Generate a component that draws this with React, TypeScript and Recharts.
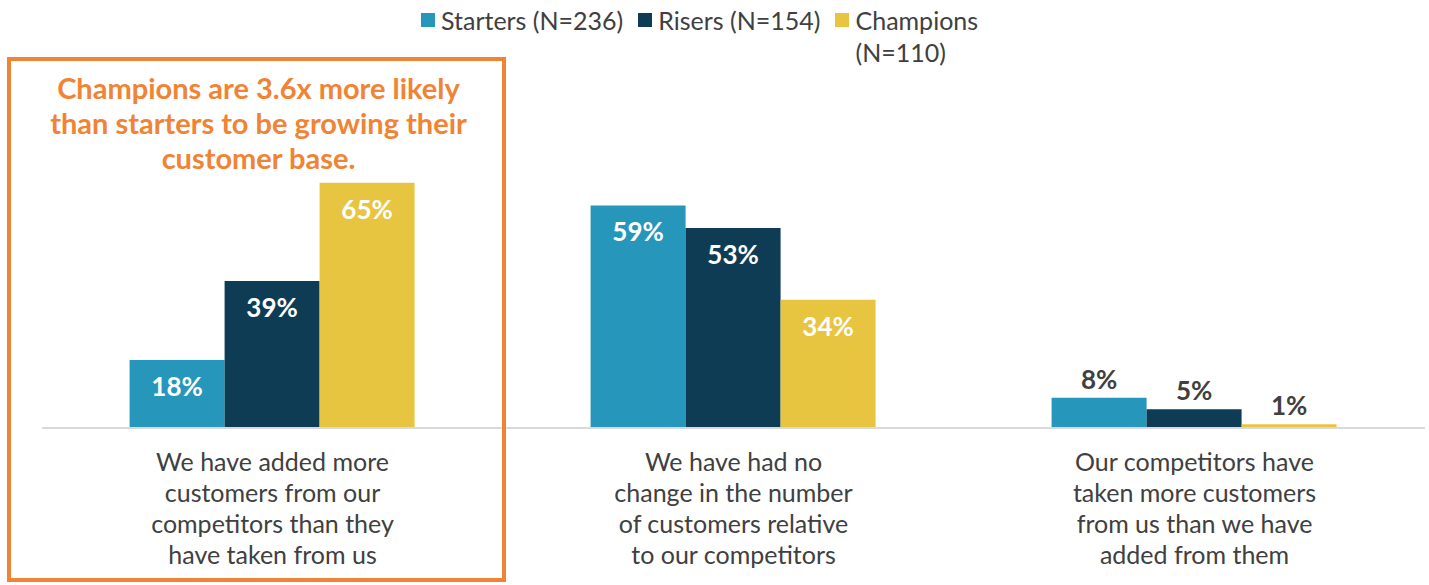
import React from "react";
import { BarChart, Bar, XAxis, YAxis, LabelList } from "recharts";

const categories = [
  "We have added more|customers from our|competitors than they|have taken from us",
  "We have had no|change in the number|of customers relative|to our competitors",
  "Our competitors have|taken more customers|from us than we have|added from them",
];
const starters = [18, 59, 8];
const risers = [39, 53, 5];
const champions = [65, 34, 1];
const seriesNames = ["Starters (N=236)", "Risers (N=154)", "Champions (N=110)"];
const colors = ["#2796BB", "#0F3C55", "#E8C541"];
const annotation = [
  "Champions are 3.6x more likely",
  "than starters to be growing their",
  "customer base.",
];

const data = categories.map((c, i) => ({
  category: c,
  starters: starters[i],
  risers: risers[i],
  champions: champions[i],
}));

const FONT = "Lato, 'Noto Sans', sans-serif";

const CategoryTick = (props: any) => {
  const { x, y, payload } = props;
  const lines = String(payload.value).split("|");
  return (
    <g transform={`translate(${x},${y})`}>
      {lines.map((l: string, i: number) => (
        <text
          key={i}
          x={0}
          y={35 + i * 31}
          textAnchor="middle"
          fill="#404040"
          fontSize={25}
          fontFamily={FONT}
        >
          {l}
        </text>
      ))}
    </g>
  );
};

const ValueLabel = (props: any) => {
  const { x, y, width, height, value } = props;
  const inside = height > 40;
  return (
    <text
      x={x + width / 2}
      y={inside ? y + 36 : y - 9}
      textAnchor="middle"
      fill={inside ? "#FFFFFF" : "#404040"}
      fontSize={26}
      fontWeight={700}
      fontFamily={FONT}
    >
      {value}%
    </text>
  );
};

export default function App() {
  const keys = ["starters", "risers", "champions"];
  return (
    <div style={{ position: "absolute", left: 0, top: 0, width: 1429, height: 585, background: "#fff", fontFamily: FONT }}>
      <BarChart
        width={1429}
        height={585}
        data={data}
        margin={{ top: 164, right: 4, bottom: 0, left: 42 }}
        barCategoryGap="19%"
        barGap={0}
      >
        <XAxis
          dataKey="category"
          height={157}
          tickLine={false}
          axisLine={{ stroke: "#D9D9D9", strokeWidth: 2 }}
          tick={<CategoryTick />}
          interval={0}
        />
        <YAxis hide domain={[0, 70]} />
        {keys.map((k, i) => (
          <Bar key={k} dataKey={k} name={seriesNames[i]} fill={colors[i]} isAnimationActive={false}>
            <LabelList dataKey={k} content={<ValueLabel />} />
          </Bar>
        ))}
      </BarChart>
      <div
        style={{
          position: "absolute",
          left: 421,
          top: 4,
          width: 572,
          display: "flex",
          alignItems: "flex-start",
          fontSize: 25,
          lineHeight: "32px",
          color: "#404040",
        }}
      >
        {seriesNames.map((n, i) => (
          <div
            key={n}
            style={{
              display: "flex",
              alignItems: "flex-start",
              marginRight: i < 2 ? 15 : 0,
              flex: i < 2 ? "none" : "1 1 auto",
              minWidth: 0,
            }}
          >
            <span
              style={{
                display: "inline-block",
                width: 14,
                height: 14,
                background: colors[i],
                marginTop: 9,
                marginRight: 6,
                flex: "none",
              }}
            />
            <span>{n}</span>
          </div>
        ))}
      </div>
      <div
        style={{
          position: "absolute",
          left: 7,
          top: 57,
          width: 499,
          height: 525,
          border: "4px solid #F08334",
          boxSizing: "border-box",
          pointerEvents: "none",
        }}
      />
      <div
        style={{
          position: "absolute",
          left: 7,
          top: 70,
          width: 503,
          textAlign: "center",
          color: "#F08334",
          fontWeight: 700,
          fontSize: 29,
          lineHeight: "35px",
        }}
      >
        {annotation.map((l) => (
          <div key={l}>{l}</div>
        ))}
      </div>
    </div>
  );
}
